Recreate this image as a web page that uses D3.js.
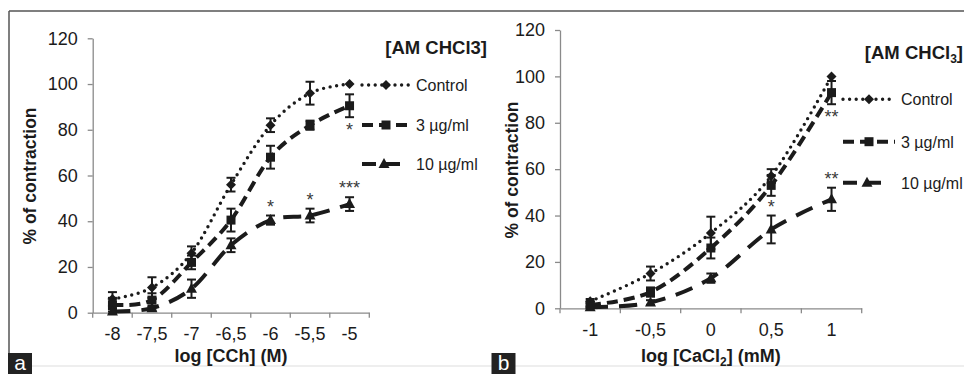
<!DOCTYPE html>
<html><head><meta charset="utf-8">
<script src="https://cdn.jsdelivr.net/npm/d3@7"></script>
<style>
body{margin:0;background:#fff} svg{display:block}
svg text{font-family:"Liberation Sans",Arial,sans-serif;}
</style>
</head><body><svg id="c" width="964" height="374"></svg>
<script>
// ---------- data ----------
const seriesNames = ["Control", "3 µg/ml", "10 µg/ml"];
const yTicks = [0, 20, 40, 60, 80, 100, 120];

// Panel a : log [CCh] (M)
const catsA = ["-8", "-7,5", "-7", "-6,5", "-6", "-5,5", "-5"];
const controlA = [6, 11, 26, 56, 82, 96, 100];
const controlAErr = [3, 4.5, 3, 3, 3, 5, 0];
const dose3A = [3.5, 5.5, 22, 40.5, 68, 82, 90.5];
const dose3AErr = [3, 3, 3, 5, 5, 2, 5];
const dose10A = [0.5, 2, 10.5, 29.5, 40.5, 42.5, 47.5];
const dose10AErr = [1, 1, 4, 3, 2, 3, 3];
const sig3A = ["", "", "", "", "", "", "*"];
const sig10A = ["", "", "", "", "*", "*", "***"];

// Panel b : log [CaCl2] (mM)
const catsB = ["-1", "-0,5", "0", "0,5", "1"];
const controlB = [3, 15, 32.5, 57, 100];
const controlBErr = [1, 3, 7, 3, 0];
const dose3B = [1.5, 7, 26, 53, 93];
const dose3BErr = [1, 2, 4.5, 4.5, 5];
const dose10B = [0.5, 2.5, 13, 34, 47];
const dose10BErr = [0.5, 1, 2, 6, 5];
const sig3B = ["", "", "", "", "**"];
const sig10B = ["", "", "", "*", "**"];

// ---------- drawing ----------
const svg = d3.select("#c");
const INK = "#1b1b1b";
const dashes = ["0 6.6", "11 6", "18 11"];
const widths = [3.4, 4, 4];
const caps = ["round", "butt", "butt"];

function marker(g, type, x, y) {
  let p;
  if (type === 0) p = `M${x},${y-5}L${x+5},${y}L${x},${y+5}L${x-5},${y}Z`;
  else if (type === 1) p = `M${x-4.5},${y-4.5}h9v9h-9Z`;
  else p = `M${x},${y-6}L${x+5.5},${y+4}L${x-5.5},${y+4}Z`;
  g.append("path").attr("d", p).attr("fill", INK);
}

function panel(cfg) {
  const g = svg.append("g");
  const x = d3.scaleBand().domain(cfg.cats).range(cfg.xr).padding(0);
  const y = d3.scaleLinear().domain([0, 120]).range(cfg.yr);

  // y axis
  const ya = g.append("g").attr("transform", `translate(${cfg.xr[0]},0)`)
    .call(d3.axisLeft(y).tickValues(yTicks).tickSize(5).tickPadding(10).tickSizeOuter(0));
  ya.attr("font-family", null);
  ya.select(".domain").attr("stroke", "#8a8a8a").attr("stroke-width", 1.3);
  ya.selectAll(".tick line").attr("stroke", "#8a8a8a").attr("stroke-width", 1.3);
  ya.selectAll(".tick text").attr("font-size", 18).attr("fill", INK);

  // x axis (labels at centres, ticks at boundaries)
  const xa = g.append("g").attr("transform", `translate(0,${cfg.yr[0]})`)
    .call(d3.axisBottom(x).tickSize(0).tickPadding(15).tickSizeOuter(0));
  xa.attr("font-family", null);
  xa.select(".domain").attr("stroke", "#8a8a8a").attr("stroke-width", 1.3);
  xa.selectAll(".tick text").attr("font-size", 18).attr("fill", INK);
  const bounds = cfg.cats.map(c => x(c)).concat([cfg.xr[1]]);
  g.selectAll(".xt").data(bounds).enter().append("line")
    .attr("x1", d => d).attr("x2", d => d)
    .attr("y1", cfg.yr[0]).attr("y2", cfg.yr[0] + 5)
    .attr("stroke", "#8a8a8a").attr("stroke-width", 1.3);

  // axis titles
  const xt = g.append("text").attr("x", (cfg.xr[0] + cfg.xr[1]) / 2).attr("y", 362)
    .attr("text-anchor", "middle").attr("font-weight", "bold")
    .attr("font-size", 18).attr("fill", INK);
  cfg.xTitle.forEach(p => {
    const t = xt.append("tspan").text(p.t);
    if (p.sub) t.attr("font-size", 12).attr("dy", 4);
    else if (p.after) t.attr("dy", -4);
  });
  g.append("text").attr("transform", `translate(${cfg.yTitleX},${cfg.yTitleY}) rotate(-90)`)
    .attr("text-anchor", "middle").attr("dy", "0.35em")
    .attr("font-weight", "bold").attr("font-size", 17.5).attr("fill", INK)
    .text("% of contraction");

  const xc = c => x(c) + x.bandwidth() / 2;
  const line = d3.line().x((d, i) => xc(cfg.cats[i])).y(d => y(d)).curve(d3.curveCatmullRom.alpha(0));

  cfg.series.forEach((s, k) => {
    g.append("path").attr("d", line(s.v)).attr("fill", "none").attr("stroke", INK)
      .attr("stroke-width", widths[k]).attr("stroke-dasharray", dashes[k]).attr("stroke-linecap", caps[k]);
  });
  cfg.series.forEach((s, k) => {
    s.v.forEach((v, i) => {
      const cx = xc(cfg.cats[i]);
      if (s.e[i] > 0) {
        const y1 = y(v + s.e[i]), y2 = y(v - s.e[i]);
        g.append("line").attr("x1", cx).attr("x2", cx).attr("y1", y1).attr("y2", y2).attr("stroke", INK).attr("stroke-width", 2);
        [y1, y2].forEach(yy => g.append("line").attr("x1", cx - 4.5).attr("x2", cx + 4.5).attr("y1", yy).attr("y2", yy).attr("stroke", INK).attr("stroke-width", 2));
      }
      marker(g, k, cx, y(v));
    });
  });

  // significance marks
  const star = (txt, cx, cy) => g.append("text").attr("x", cx).attr("y", cy + 9)
    .attr("text-anchor", "middle").attr("font-size", 18)
    .attr("fill", "#3a3a3a").text(txt);
  cfg.sigBelow.forEach((t, i) => { if (t) { const s = cfg.series[1]; star(t, xc(cfg.cats[i]), y(s.v[i] - s.e[i]) + 10); } });
  cfg.sigAbove.forEach((t, i) => { if (t) { const s = cfg.series[2]; star(t, xc(cfg.cats[i]), y(s.v[i] + s.e[i]) - 12); } });

  // legend
  const L = cfg.legend;
  const tt = g.append("text").attr("x", L.titleX).attr("y", L.titleY).attr("text-anchor", "end")
    .attr("font-weight", "bold").attr("font-size", 18.5).attr("fill", INK);
  L.title.forEach(p => {
    const t = tt.append("tspan").text(p.t);
    if (p.sub) t.attr("font-size", 12).attr("dy", 4);
    else if (p.after) t.attr("dy", -4);
  });
  seriesNames.forEach((n, k) => {
    const ly = L.rows[k];
    const x2 = k === 2 ? L.x1 - 10 : L.x1;
    g.append("line").attr("x1", L.x0).attr("x2", x2).attr("y1", ly).attr("y2", ly)
      .attr("stroke", INK).attr("stroke-width", widths[k]).attr("stroke-dasharray", k === 2 ? "14 10" : dashes[k])
      .attr("stroke-linecap", caps[k]);
    marker(g, k, (L.x0 + x2) / 2 + (k === 2 ? 3 : 0), ly);
    g.append("text").attr("x", L.tx).attr("y", ly + 6)
      .attr("font-size", 16).attr("fill", INK).text(n);
  });

  // panel label
  g.append("rect").attr("x", cfg.tag.x).attr("y", 353).attr("width", 24).attr("height", 21).attr("fill", "#222");
  g.append("text").attr("x", cfg.tag.x + 12).attr("y", 370).attr("text-anchor", "middle")
    .attr("font-size", 21).attr("fill", "#fff").text(cfg.tag.t);
}

// frame
svg.append("line").attr("x1", 9).attr("x2", 964).attr("y1", 11).attr("y2", 11).attr("stroke", "#555").attr("stroke-width", 1.5);
svg.append("line").attr("x1", 9).attr("x2", 9).attr("y1", 11).attr("y2", 353).attr("stroke", "#555").attr("stroke-width", 1.5);
svg.append("line").attr("x1", 32).attr("x2", 964).attr("y1", 366).attr("y2", 366).attr("stroke", "#ddd").attr("stroke-width", 1);

panel({
  cats: catsA, xr: [92.7, 369.3], yr: [312.7, 38.3],
  series: [{ v: controlA, e: controlAErr }, { v: dose3A, e: dose3AErr }, { v: dose10A, e: dose10AErr }],
  sigBelow: sig3A, sigAbove: sig10A,
  xTitle: [{ t: "log [CCh] (M)" }],
  yTitleX: 30, yTitleY: 176,
  legend: { title: [{ t: "[AM CHCl3]" }], titleX: 487, titleY: 54, rows: [85, 125, 164], x0: 362, x1: 410, tx: 416 },
  tag: { x: 8, t: "a" }
});

panel({
  cats: catsB, xr: [560, 861.7], yr: [308.3, 30],
  series: [{ v: controlB, e: controlBErr }, { v: dose3B, e: dose3BErr }, { v: dose10B, e: dose10BErr }],
  sigBelow: sig3B, sigAbove: sig10B,
  xTitle: [{ t: "log [CaCl" }, { t: "2", sub: true }, { t: "] (mM)", after: true }],
  yTitleX: 511.5, yTitleY: 170,
  legend: { title: [{ t: "[AM CHCl" }, { t: "3", sub: true }, { t: "]", after: true }], titleX: 963, titleY: 59, rows: [99.3, 141.7, 182.7], x0: 843, x1: 895, tx: 901 },
  tag: { x: 491.5, t: "b" }
});
</script>
</body></html>
